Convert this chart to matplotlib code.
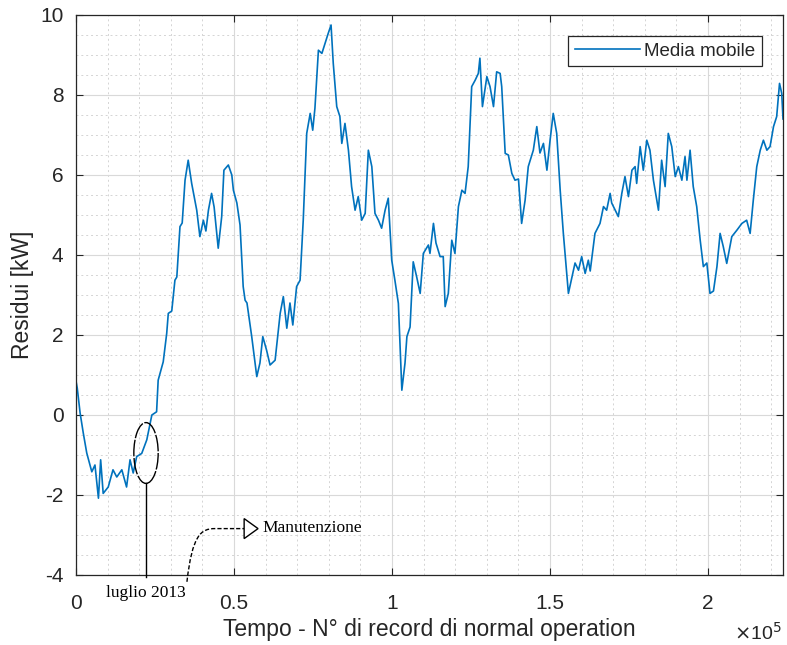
import matplotlib
matplotlib.use("Agg")
import matplotlib.pyplot as plt
from matplotlib.patches import Ellipse, Polygon, PathPatch
from matplotlib.path import Path
from matplotlib.ticker import MultipleLocator

plt.rcParams['font.family'] = ['Liberation Sans', 'DejaVu Sans']
plt.rcParams['axes.unicode_minus'] = False

# Moving-average residuals (x in number of records, y in kW)
x_k = [0.0, 0.4, 1.3, 2.3, 3.4, 5.0, 6.0, 7.1, 7.8, 8.6, 10.2, 11.7, 12.9, 14.5, 16.0, 17.1, 18.1, 19.2,
       20.8, 22.4, 24.0, 25.5, 26.0, 27.6, 28.7, 29.2, 30.3, 31.3, 31.9, 32.9, 33.6, 34.5, 35.5, 36.6,
       38.2, 39.2, 40.3, 41.1, 41.9, 42.9, 43.7, 45.0, 46.1, 46.8, 48.2, 49.3, 49.8, 50.9, 51.9, 52.9,
       53.5, 54.1, 55.6, 57.2, 58.2, 59.1, 60.3, 61.4, 63.0, 64.6, 65.6, 66.7, 67.7, 68.6, 69.8, 70.9,
       71.9, 73.0, 74.1, 74.9, 75.6, 76.7, 77.8, 78.8, 79.8, 80.7, 81.4, 82.5, 83.5, 84.1, 85.1, 86.2,
       87.2, 88.3, 89.3, 90.4, 91.5, 92.5, 93.6, 94.6, 95.7, 96.7, 97.8, 98.8, 99.9, 100.9, 102.0,
       103.1, 104.1, 104.7, 105.7, 106.7, 107.8, 108.9, 109.9, 111.5, 112.0, 113.1, 113.9, 115.2,
       116.2, 116.8, 117.8, 118.9, 119.9, 121.0, 122.1, 123.1, 124.1, 125.2, 126.3, 127.3, 127.8,
       128.6, 130.0, 131.0, 132.1, 133.1, 134.2, 134.7, 135.8, 136.8, 137.9, 138.9, 140.0, 141.0,
       142.1, 143.1, 144.7, 145.8, 146.8, 147.9, 149.0, 150.0, 151.0, 152.1, 153.2, 154.2, 155.8,
       157.9, 159.0, 160.0, 161.1, 162.1, 162.7, 164.2, 165.8, 166.9, 167.9, 169.0, 169.5, 170.6,
       171.6, 172.7, 173.7, 174.8, 175.9, 176.9, 177.4, 178.5, 179.5, 180.6, 181.6, 182.7, 184.3,
       185.3, 186.4, 187.4, 188.5, 189.6, 190.6, 191.7, 192.7, 193.3, 194.3, 195.3, 196.4, 197.5,
       198.5, 199.6, 200.6, 201.7, 202.8, 203.8, 204.8, 205.9, 207.5, 209.1, 210.7, 212.2, 213.3,
       214.3, 215.4, 216.5, 217.5, 218.6, 219.6, 220.7, 221.7, 222.6, 223.3, 223.7]
residui = [0.85, 0.67, 0.05, -0.45, -0.95, -1.42, -1.25, -2.08, -1.12, -1.96, -1.80, -1.37, -1.55, -1.37,
           -1.80, -1.12, -1.45, -1.04, -0.96, -0.62, 0.00, 0.08, 0.87, 1.33, 2.04, 2.54, 2.60, 3.37, 3.45,
           4.71, 4.80, 5.87, 6.37, 5.79, 5.12, 4.46, 4.87, 4.60, 5.12, 5.54, 5.20, 4.17, 4.96, 6.12, 6.25,
           6.00, 5.62, 5.30, 4.75, 3.21, 2.87, 2.80, 1.96, 0.96, 1.30, 1.96, 1.62, 1.25, 1.37, 2.54, 2.96,
           2.17, 2.80, 2.25, 3.21, 3.37, 4.87, 7.04, 7.54, 7.12, 7.67, 9.12, 9.04, 9.29, 9.54, 9.75, 8.79,
           7.71, 7.46, 6.79, 7.29, 6.62, 5.71, 5.12, 5.46, 4.87, 5.04, 6.62, 6.21, 5.04, 4.87, 4.67, 5.12,
           5.42, 3.87, 3.37, 2.79, 0.62, 1.30, 1.96, 2.20, 3.83, 3.45, 3.04, 4.04, 4.25, 4.04, 4.79, 4.30,
           3.96, 3.96, 2.71, 3.04, 4.37, 4.04, 5.21, 5.62, 5.54, 6.21, 8.21, 8.37, 8.54, 8.92, 7.71, 8.46,
           8.21, 7.71, 8.58, 8.54, 8.21, 6.54, 6.50, 6.04, 5.87, 5.90, 4.79, 5.37, 6.21, 6.62, 7.21, 6.55,
           6.79, 6.12, 6.87, 7.54, 7.04, 5.62, 4.54, 3.04, 3.80, 3.62, 3.96, 3.54, 3.87, 3.60, 4.54, 4.79,
           5.21, 5.12, 5.54, 5.30, 5.12, 4.96, 5.54, 5.96, 5.46, 6.12, 6.21, 5.79, 6.71, 6.12, 6.87, 6.62,
           5.87, 5.12, 6.37, 5.71, 7.04, 6.71, 5.96, 6.21, 5.87, 6.46, 5.87, 6.62, 5.71, 5.21, 4.37, 3.71,
           3.80, 3.04, 3.10, 3.71, 4.54, 4.21, 3.79, 4.46, 4.62, 4.79, 4.87, 4.54, 5.37, 6.21, 6.62, 6.87,
           6.62, 6.71, 7.21, 7.46, 8.29, 8.04, 7.40]
x_rec = [v * 1000 for v in x_k]

series_label = "Media mobile"
x_label = "Tempo - N° di record di normal operation"
y_label = "Residui [kW]"
x_ticks = [0, 50000, 100000, 150000, 200000]
x_ticklabels = ["0", "0.5", "1", "1.5", "2"]
y_ticks = [-4, -2, 0, 2, 4, 6, 8, 10]

W, H = 787, 645
fig = plt.figure(figsize=(W / 100, H / 100), dpi=100)
ax = fig.add_axes([76 / W, 1 - 575 / H, (783 - 76) / W, (575 - 15) / H])

ax.plot(x_rec, residui, color='#0072BD', lw=1.2, label=series_label)

ax.set_xlim(0, 223700)
ax.set_ylim(-4, 10)
ax.set_xticks(x_ticks)
ax.set_xticklabels(x_ticklabels)
ax.set_yticks(y_ticks)
ax.xaxis.set_minor_locator(MultipleLocator(10000))
ax.yaxis.set_minor_locator(MultipleLocator(0.5))

tc = '#262626'
ax.tick_params(which='major', direction='in', length=5, width=0.8, colors=tc,
               labelsize=15, top=True, right=True)
ax.tick_params(axis='x', which='major', pad=14)
ax.tick_params(axis='y', which='major', pad=9)
ax.tick_params(which='minor', length=0, top=True, right=True)
for s in ax.spines.values():
    s.set_color(tc)
    s.set_linewidth(0.9)

ax.grid(which='major', color='#d9d9d9', lw=0.8, ls='-')
ax.grid(which='minor', color='#d4d4d4', lw=0.7, ls=(0, (2, 3)))
ax.set_axisbelow(True)

ax.set_xlabel(x_label, fontsize=16.5, color=tc, labelpad=3)
ax.set_ylabel(y_label, fontsize=16.5, color=tc, va='center')
ax.yaxis.set_label_coords((22 - 76) / 707, 0.5)

fig.text(782 / W, 1 - 633 / H, r"$\times$10$^{5}$", ha='right', va='center', fontsize=14, color=tc)

leg = ax.legend(loc='upper right', bbox_to_anchor=(0.970, 0.9625), borderaxespad=0,
                fontsize=13.5, fancybox=False, framealpha=1, edgecolor=tc,
                handlelength=3.5, handletextpad=0.2, borderpad=0.35)
leg.get_frame().set_linewidth(0.9)
for t in leg.get_texts():
    t.set_color(tc)

# Annotations
serif = ['Liberation Serif', 'DejaVu Serif']
ell = Ellipse((22150, -0.95), 7700, 1.52, fill=False, edgecolor='black', lw=1.0,
              ls=(0, (12, 1.2)), zorder=5)
ax.add_patch(ell)
ax.plot([22150, 22150], [-1.71, -4.05], color='black', lw=1.0, clip_on=False, zorder=5)
ax.text(22150, -4.45, "luglio 2013", family=serif, fontsize=12.5, ha='center', va='center',
        color='black', clip_on=False)

verts = [(35100, -4.17), (36800, -3.0), (39500, -2.84), (44000, -2.84), (53200, -2.84)]
codes = [Path.MOVETO, Path.CURVE4, Path.CURVE4, Path.CURVE4, Path.LINETO]
ax.add_patch(PathPatch(Path(verts, codes), fill=False, edgecolor='black', lw=1.0,
                       ls=(0, (3, 1.5)), clip_on=False, zorder=5))
ax.add_patch(Polygon([(53200, -2.59), (53200, -3.09), (57600, -2.84)], closed=True,
                     facecolor='white', edgecolor='black', lw=1.0, zorder=6))
ax.text(59000, -2.82, "Manutenzione", family=serif, fontsize=12.5, ha='left', va='center',
        color='black')

fig.savefig("out.png", dpi=100)
